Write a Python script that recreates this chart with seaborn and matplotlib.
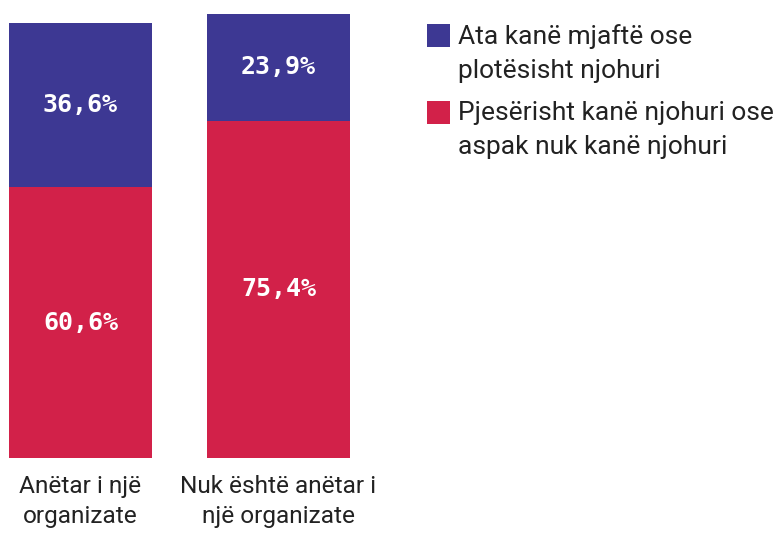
import matplotlib
matplotlib.use("Agg")
import matplotlib.pyplot as plt
from matplotlib.patches import Rectangle
import seaborn as sns
import pandas as pd

# Data
categories = ["Anëtar i një\norganizate", "Nuk është anëtar i\nnjë organizate"]
sufficient = [36.6, 23.9]    # Ata kanë mjaftë ose plotësisht njohuri
partial = [60.6, 75.4]       # Pjesërisht kanë njohuri ose aspak nuk kanë njohuri
legend_labels = ["Ata kanë mjaftë ose\nplotësisht njohuri",
                 "Pjesërisht kanë njohuri ose\naspak nuk kanë njohuri"]

BLUE = "#3D3893"
RED = "#D22149"
TEXT = "#222222"

sns.set_theme(style="white")
plt.rcParams["font.family"] = ["Roboto", "DejaVu Sans"]

df = pd.DataFrame({
    "category": categories,
    "partial": partial,
    "sufficient": sufficient,
})
df["total"] = df["partial"] + df["sufficient"]

fig = plt.figure(figsize=(7.83, 5.36), dpi=100)
ax = fig.add_axes([9 / 783, 78 / 536, 341 / 783, 444 / 536])

bw = 0.722
# Stacked bars: full stack in blue, red segment drawn over the lower part
sns.barplot(data=df, x="category", y="total", color=BLUE, width=bw,
            saturation=1, linewidth=0, ax=ax)
sns.barplot(data=df, x="category", y="partial", color=RED, width=bw,
            saturation=1, linewidth=0, ax=ax)

ax.set_xlim(-bw / 2, 1 + bw / 2)
ax.set_ylim(0, df["total"].max())
ax.set_xlabel("")
ax.set_ylabel("")
ax.set_yticks([])
ax.tick_params(axis="x", length=0, pad=12, labelsize=17.6, labelcolor=TEXT)
for lbl in ax.get_xticklabels():
    lbl.set_linespacing(1.4)
sns.despine(ax=ax, left=True, bottom=True)

# Value labels centred in each segment
for i, (p, s) in enumerate(zip(partial, sufficient)):
    for val, y in ((p, p / 2), (s, p + s / 2)):
        ax.text(i, y, f"{val:.1f}%".replace(".", ","), ha="center", va="center",
                color="white", fontsize=18, fontweight="bold",
                family="DejaVu Sans Mono")

# Legend
for k, (col, lab) in enumerate(zip([BLUE, RED], legend_labels)):
    top = 24 + k * 77
    fig.add_artist(Rectangle((427 / 783, 1 - (top + 23) / 536), 23 / 783, 23 / 536,
                             transform=fig.transFigure, color=col, lw=0))
    fig.text(458 / 783, 1 - (top + 0) / 536, lab, ha="left", va="top",
             fontsize=19, color=TEXT, linespacing=1.54)

fig.savefig("out.png", dpi=100)
